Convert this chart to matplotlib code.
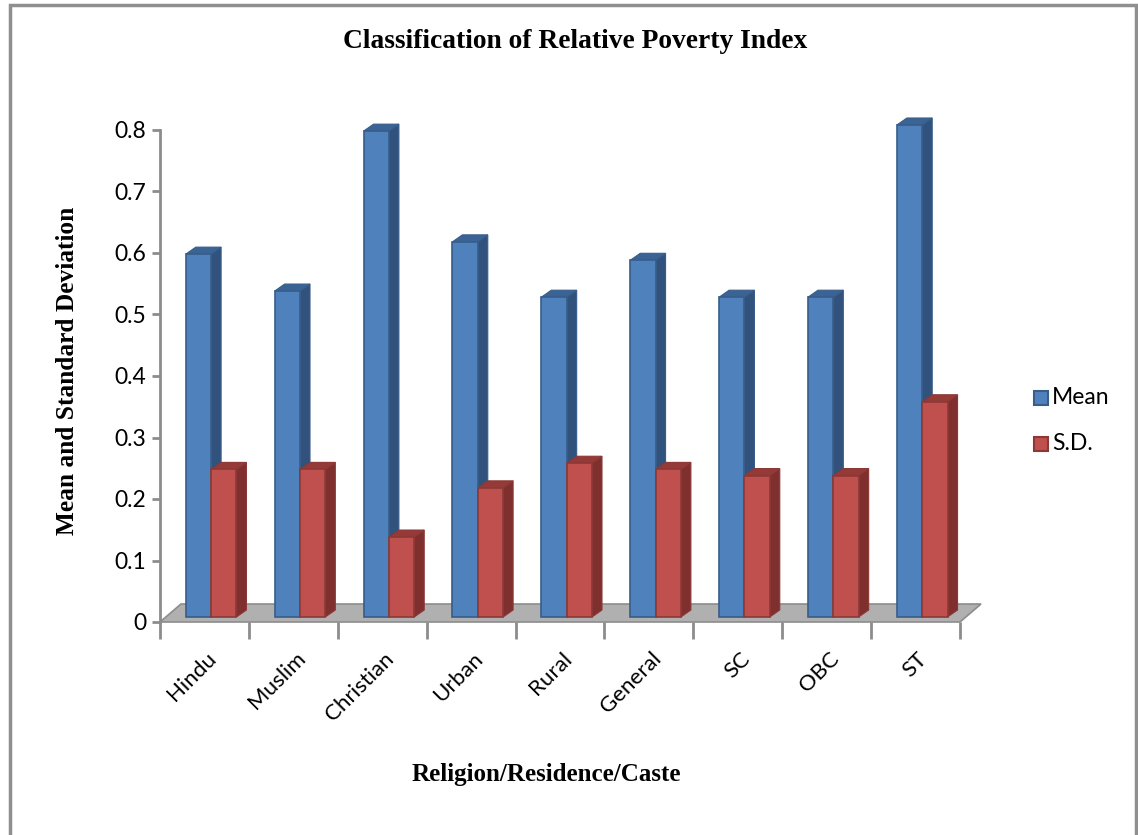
import matplotlib
matplotlib.use('Agg')
import matplotlib.pyplot as plt
from matplotlib.patches import Polygon, Rectangle

categories = ['Hindu', 'Muslim', 'Christian', 'Urban', 'Rural', 'General', 'SC', 'OBC', 'ST']
mean_vals = [0.59, 0.53, 0.79, 0.61, 0.52, 0.58, 0.52, 0.52, 0.80]
sd_vals = [0.24, 0.24, 0.13, 0.21, 0.25, 0.24, 0.23, 0.23, 0.35]
yticks = [0, 0.1, 0.2, 0.3, 0.4, 0.5, 0.6, 0.7, 0.8]

W, H = 1138, 835
fig = plt.figure(figsize=(W / 100, H / 100), dpi=100)
fig.patch.set_facecolor('white')

# outer frame of the chart object
fig.add_artist(Rectangle((10 / W, -0.05), 1126 / W, 1.05 - 5 / H, transform=fig.transFigure,
                         fill=False, edgecolor='#8f8f8f', linewidth=2.5))

ax = fig.add_axes([160 / W, (H - 622) / H, 800 / W, 492 / H])
ax.set_xlim(-0.5, len(categories) - 0.5)
ax.set_ylim(0, 0.8)

# pixel -> data scale for the pseudo 3D depth
px_x = 9 / 800.0
px_y = 0.8 / 492.0
fdx, fdy = 21 * px_x, 18 * px_y     # floor depth
bdx, bdy = 10 * px_x, 7 * px_y      # bar depth
base = 5 * px_y                     # bars sit a bit behind the front edge
bw = 0.285

# floor
n = len(categories)
floor = Polygon([(-0.5, 0), (n - 0.5, 0), (n - 0.5 + fdx, fdy), (-0.5 + fdx, fdy)],
                closed=True, facecolor='#b0b0b0', edgecolor='#8c8c8c', lw=1.2,
                clip_on=False, zorder=1)
ax.add_patch(floor)


def draw_bars(xs, vals, front, side, top, edge):
    ax.bar(xs, vals, width=bw, bottom=base, align='edge', color=front,
           edgecolor=edge, linewidth=1.2, zorder=3, clip_on=False)
    for x, v in zip(xs, vals):
        y0, y1 = base, base + v
        ax.add_patch(Polygon([(x + bw, y0), (x + bw + bdx, y0 + bdy), (x + bw + bdx, y1 + bdy), (x + bw, y1)],
                             closed=True, facecolor=side, edgecolor=edge, lw=0.8, zorder=2.5, clip_on=False))
        ax.add_patch(Polygon([(x, y1), (x + bdx, y1 + bdy), (x + bw + bdx, y1 + bdy), (x + bw, y1)],
                             closed=True, facecolor=top, edgecolor=edge, lw=0.8, zorder=2.5, clip_on=False))


idx = list(range(n))
mean_x = [i - 0.21 for i in idx]
sd_x = [i - 0.21 + bw for i in idx]
draw_bars(mean_x, mean_vals, '#4f81bd', '#31527d', '#3b6496', '#385d8a')
draw_bars(sd_x, sd_vals, '#c0504d', '#7f302e', '#963a37', '#8c3836')

# axes styling
for s in ['top', 'right']:
    ax.spines[s].set_visible(False)
ax.spines['left'].set_color('#8c8c8c')
ax.spines['left'].set_linewidth(2)
ax.spines['bottom'].set_visible(False)
ax.set_yticks(yticks)
ax.set_yticklabels(['0' if t == 0 else '%.1f' % t for t in yticks],
                   fontsize=16.5, family='Lato')
ax.tick_params(axis='y', direction='out', length=6, width=2, color='#8c8c8c', pad=4)

ax.set_xticks([i - 0.5 for i in range(n + 1)], minor=False)
ax.set_xticklabels([])
ax.tick_params(axis='x', direction='out', length=12, width=2, color='#8c8c8c')
for i, c in enumerate(categories):
    ax.text(i + 0.02, -0.043, c, rotation=45, ha='right', va='top', fontsize=16,
            family='Lato', rotation_mode='anchor', transform=ax.transData)

ax.set_facecolor('none')

fig.text(575 / W, 1 - 41 / H, 'Classification of Relative Poverty Index', ha='center', va='center',
         fontsize=19.8, fontweight='bold', family='Liberation Serif')
fig.text(68 / W, 1 - 371 / H, 'Mean and Standard Deviation', ha='center', va='center', rotation=90,
         fontsize=18.3, fontweight='bold', family='Liberation Serif')
fig.text(546 / W, 1 - 775 / H, 'Religion/Residence/Caste', ha='center', va='center',
         fontsize=18, fontweight='bold', family='Liberation Serif')

# legend
leg_items = [('Mean', '#4f81bd', '#385d8a'), ('S.D.', '#c0504d', '#8c3836')]
for k, (lab, fc, ec) in enumerate(leg_items):
    yc = 1 - (398 + k * 46) / H
    fig.add_artist(Rectangle((1034 / W, yc - 7 / H), 14 / W, 14 / H, transform=fig.transFigure,
                             facecolor=fc, edgecolor=ec, lw=1.5))
    fig.text(1052 / W, yc, lab, va='center', ha='left', fontsize=16.5, family='Lato')

fig.savefig('out.png', dpi=100)
